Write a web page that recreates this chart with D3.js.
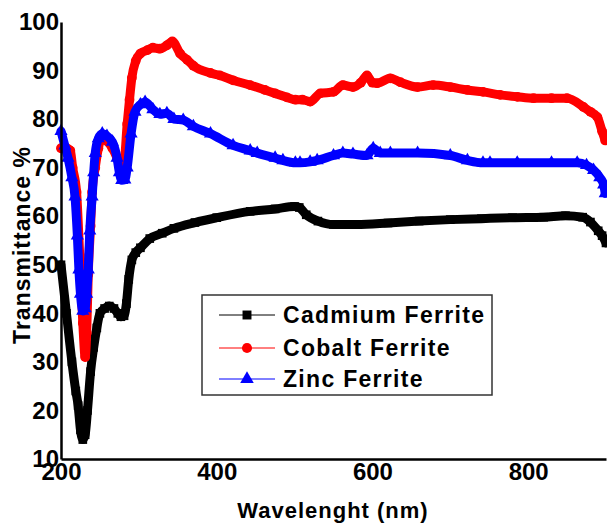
<!DOCTYPE html>
<html>
<head>
<meta charset="utf-8">
<script src="https://cdn.jsdelivr.net/npm/d3@7"></script>
<style>
  html, body { margin: 0; padding: 0; background: #fff; }
  svg { display: block; font-family: "Liberation Sans", Arial, sans-serif; }
</style>
</head>
<body>
<svg id="chart" width="607" height="526"></svg>
<script>
// Transmittance spectra of three ferrite samples
const cadmiumWl = [200,207,214,219,222,225,228,231,234,238,242,246,250,256,262,268,273,277,281,284,287,291,296,302,314,330,345,372,400,443,475,500,506,515,530,550,580,620,660,700,740,780,820,848,870,880,890,895,900];
const cadmiumT  = [50,40,30,24,21,16,14,15,20,28,33,37,40,41,41.5,41,40,39.3,39.5,42,47,51,52.5,53.5,55.4,56.5,57.5,58.7,59.7,61,61.5,62,61.8,60.3,59,58.3,58.3,58.6,59,59.3,59.5,59.7,59.8,60.1,59.8,58.8,57,56,54.5];

const cobaltWl = [200,207,212,215,220,224,228,231,233,235,238,240,244,248,253,259,266,272,277,281,285,288,291,296,302,311,318,327,336,343,353,362,370,392,404,421,443,462,475,490,501,510,520,533,550,562,575,585,593,600,606,623,636,658,678,700,722,742,764,786,807,830,850,871,880,889,895,899];
const cobaltT  = [74,74,73.5,70,65,52,38,31,36,48,58,65,70,74,76.5,75.5,74,72,70,71,79,84,88.5,92,93.5,94.2,94.7,94.5,95.2,96,93.5,92.2,91,89.5,89,88,87,86,85.3,84.5,84,84,83.6,85.3,85.6,87,86.6,87.5,89,87.5,87.4,88.4,87.6,86.6,87,86.6,86,85.6,85,84.6,84.3,84.3,84.3,82.5,81.5,80.4,77.5,75.6];

const zincWl = [200,205,209,214,218,221,223,225,228,231,233,235,237,240,242,244,248,253,259,266,272,275,278,282,285,290,295,302,308,318,327,336,345,357,370,392,421,443,452,475,485,501,507,520,529,550,562,575,593,601,610,623,658,700,722,742,751,786,830,863,875,884,892,897,899];
const zincT  = [77.5,74.5,72,68,64,56,49,44,40.5,41,44,49,57,64,69,73,76,77,76.5,75.3,72,69,67.4,67.5,70,77,81.5,83,83.5,82,81,81.2,80,79.8,78.5,77,74.6,73.5,73,72,71.5,71,71,71.2,71.5,72.5,73,72.8,72.5,74,73,73,73,72.5,71.5,71,71,71,71,71,70.5,69.5,68,66.5,64.7];

const xTicks = [200, 400, 600, 800];
const yTicks = [10, 20, 30, 40, 50, 60, 70, 80, 90, 100];

const seriesNames = ["Cadmium Ferrite", "Cobalt Ferrite", "Zinc Ferrite"];
const seriesColors = ["#000000", "#ff0000", "#0000ff"];
const seriesSymbols = [d3.symbolSquare, d3.symbolCircle, d3.symbolTriangle];

const series = [
  { name: seriesNames[0], wl: cadmiumWl, t: cadmiumT, color: seriesColors[0], symbol: seriesSymbols[0] },
  { name: seriesNames[1], wl: cobaltWl,  t: cobaltT,  color: seriesColors[1], symbol: seriesSymbols[1] },
  { name: seriesNames[2], wl: zincWl,    t: zincT,    color: seriesColors[2], symbol: seriesSymbols[2] }
];

const svg = d3.select("#chart");
const plotLeft = 61, plotRight = 606, plotTop = 22, plotBottom = 459;

const x = d3.scaleLinear().domain([200, 900]).range([plotLeft, plotRight]);
const y = d3.scaleLinear().domain([10, 100]).range([plotBottom, plotTop]);

// Curves: thick band drawn as a wide stroke plus a marker at every sample
const line = d3.line().x(d => x(d[0])).y(d => y(d[1])).curve(d3.curveMonotoneX);
const plot = svg.append("g").attr("class", "plot");
series.forEach(s => {
  const pts = s.wl.map((w, i) => [w, s.t[i]]);
  const g = plot.append("g");
  g.append("path")
    .datum(pts)
    .attr("d", line)
    .attr("fill", "none")
    .attr("stroke", s.color)
    .attr("stroke-width", 9)
    .attr("stroke-linejoin", "round")
    .attr("stroke-linecap", "round");
  g.selectAll("path.mk")
    .data(pts)
    .join("path")
    .attr("class", "mk")
    .attr("transform", d => `translate(${x(d[0])},${y(d[1])})`)
    .attr("d", d3.symbol().type(s.symbol).size(75))
    .attr("fill", s.color);
});

// Axes
const yAxis = d3.axisLeft(y).tickValues(yTicks).tickSize(0).tickPadding(2).tickFormat(d3.format("d"));
const yg = svg.append("g").attr("transform", `translate(${plotLeft},0)`).call(yAxis);
yg.select(".domain").attr("stroke", "#000").attr("stroke-width", 2.5);
yg.selectAll("text").attr("font-size", 24).attr("font-weight", "bold").attr("fill", "#000")
  .attr("font-family", "Liberation Sans, Arial, sans-serif");

const xAxis = d3.axisBottom(x).tickValues(xTicks).tickSize(0).tickPadding(4).tickFormat(d3.format("d"));
const xg = svg.append("g").attr("transform", `translate(0,${plotBottom})`).call(xAxis);
xg.select(".domain").attr("stroke", "#000").attr("stroke-width", 2.5);
xg.selectAll("text").attr("font-size", 24).attr("font-weight", "bold").attr("fill", "#000")
  .attr("font-family", "Liberation Sans, Arial, sans-serif");

// Axis titles
svg.append("text")
  .attr("x", 333).attr("y", 518)
  .attr("text-anchor", "middle")
  .attr("font-size", 22).attr("font-weight", "bold")
  .attr("letter-spacing", 1)
  .text("Wavelenght (nm)");

svg.append("text")
  .attr("transform", "translate(30,245) rotate(-90)")
  .attr("text-anchor", "middle")
  .attr("font-size", 23).attr("font-weight", "bold")
  .attr("letter-spacing", 1)
  .text("Transmittance %");

// Legend
const lg = svg.append("g").attr("class", "legend");
lg.append("rect")
  .attr("x", 202).attr("y", 295).attr("width", 290).attr("height", 100)
  .attr("fill", "#fff").attr("stroke", "#333").attr("stroke-width", 1.5);
const rowY = [315, 348, 379];
series.forEach((s, i) => {
  const ry = rowY[i];
  lg.append("line").attr("x1", 219).attr("x2", 275).attr("y1", ry).attr("y2", ry)
    .attr("stroke", s.color).attr("stroke-width", 1);
  lg.append("path").attr("transform", `translate(247,${ry})`)
    .attr("d", d3.symbol().type(s.symbol).size(80)).attr("fill", s.color);
  lg.append("text").attr("x", 283).attr("y", ry + 8)
    .attr("font-size", 23).attr("font-weight", "bold").attr("letter-spacing", 1.3)
    .text(s.name);
});
</script>
</body>
</html>
